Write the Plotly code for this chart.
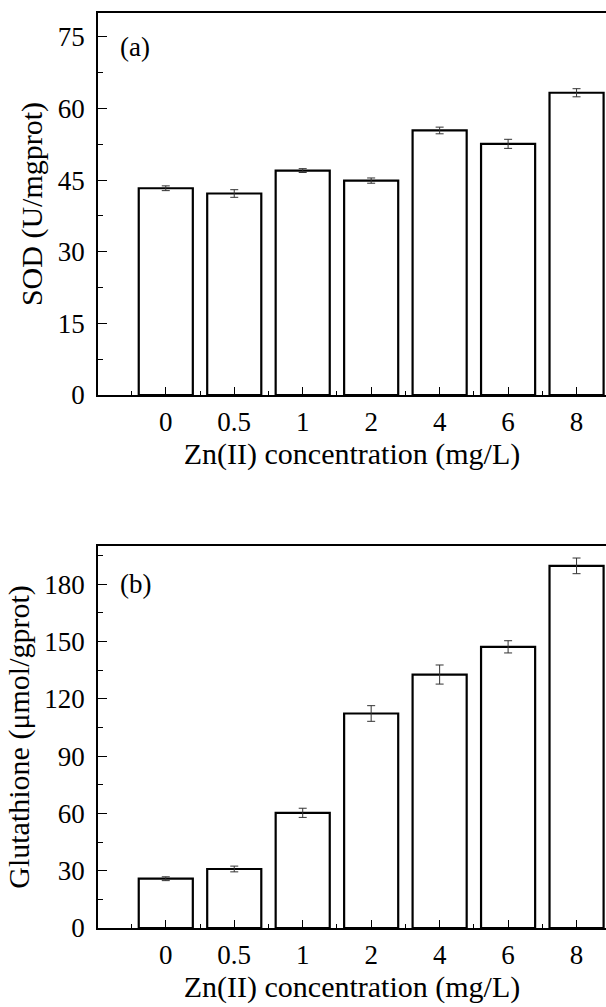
import plotly.graph_objects as go

categories = ["0", "0.5", "1", "2", "4", "6", "8"]
sod = [43.3, 42.2, 47.0, 44.9, 55.4, 52.6, 63.3]
sod_err = [0.5, 0.8, 0.4, 0.55, 0.7, 0.95, 0.85]
gsh = [25.8, 30.9, 60.3, 112.3, 132.7, 147.2, 189.6]
gsh_err = [1.0, 1.5, 2.4, 4.1, 5.0, 3.2, 4.1]

FONT = "Liberation Serif, Times New Roman, serif"
FS = 27
FT = 30
xpos = list(range(len(categories)))

fig = go.Figure()
for vals, errs, xa, ya in [(sod, sod_err, "x", "y"), (gsh, gsh_err, "x2", "y2")]:
    fig.add_trace(go.Bar(
        x=xpos, y=vals, width=0.79,
        marker=dict(color="white", line=dict(color="black", width=2.2)),
        error_y=dict(type="data", array=errs, visible=True, color="#333333",
                     thickness=1, width=4),
        xaxis=xa, yaxis=ya, showlegend=False,
    ))

xcommon = dict(
    range=[-0.99, 6.43], tickmode="array", tickvals=xpos, ticktext=categories,
    ticks="inside", ticklen=8, tickwidth=1.2, tickcolor="black",
    minor=dict(tickmode="linear", tick0=-0.5, dtick=1, ticks="inside",
               ticklen=4, tickwidth=1.2, tickcolor="black"),
    showline=True, linecolor="black", linewidth=1.5, mirror=True,
    showgrid=False, zeroline=False,
    tickfont=dict(family=FONT, size=FS, color="black"),
    title=dict(text="Zn(II) concentration (mg/L)",
               font=dict(family=FONT, size=FT, color="black"), standoff=4),
    ticklabelstandoff=2,
)

ycommon = dict(
    ticks="inside", ticklen=9, tickwidth=1.2, tickcolor="black",
    showline=True, linecolor="black", linewidth=1.5, mirror=False,
    showgrid=False, zeroline=False,
    tickfont=dict(family=FONT, size=FS, color="black"),
    ticklabelstandoff=6,
)

fig.update_layout(
    width=606, height=1007,
    margin=dict(l=98, r=0, t=13, b=79),
    paper_bgcolor="white", plot_bgcolor="white",
    xaxis=dict(domain=[0, 1], anchor="y", **xcommon),
    yaxis=dict(domain=[0.5825, 1], anchor="x", range=[0, 80], dtick=15, tick0=0,
               minor=dict(dtick=7.5, tick0=0, ticks="inside", ticklen=5,
                          tickwidth=1.2, tickcolor="black"),
               title=dict(text="SOD (U/mgprot)",
                          font=dict(family=FONT, size=FT, color="black"), standoff=6),
               **ycommon),
    xaxis2=dict(domain=[0, 1], anchor="y2", **xcommon),
    yaxis2=dict(domain=[0, 0.4175], anchor="x2", range=[0, 200], dtick=30, tick0=0,
                minor=dict(dtick=15, tick0=0, ticks="inside", ticklen=5,
                           tickwidth=1.2, tickcolor="black"),
                title=dict(text="Glutathione (μmol/gprot)",
                           font=dict(family=FONT, size=FT, color="black"), standoff=6),
                **ycommon),
    annotations=[
        dict(text="(a)", xref="x domain", yref="y domain", x=0.04, y=0.91,
             xanchor="left", yanchor="middle", showarrow=False,
             font=dict(family=FONT, size=FS, color="black")),
        dict(text="(b)", xref="x2 domain", yref="y2 domain", x=0.04, y=0.9,
             xanchor="left", yanchor="middle", showarrow=False,
             font=dict(family=FONT, size=FS, color="black")),
    ],
)

fig.write_html("out.html", config={"displayModeBar": False},
               post_script="document.body.style.margin='0';")
